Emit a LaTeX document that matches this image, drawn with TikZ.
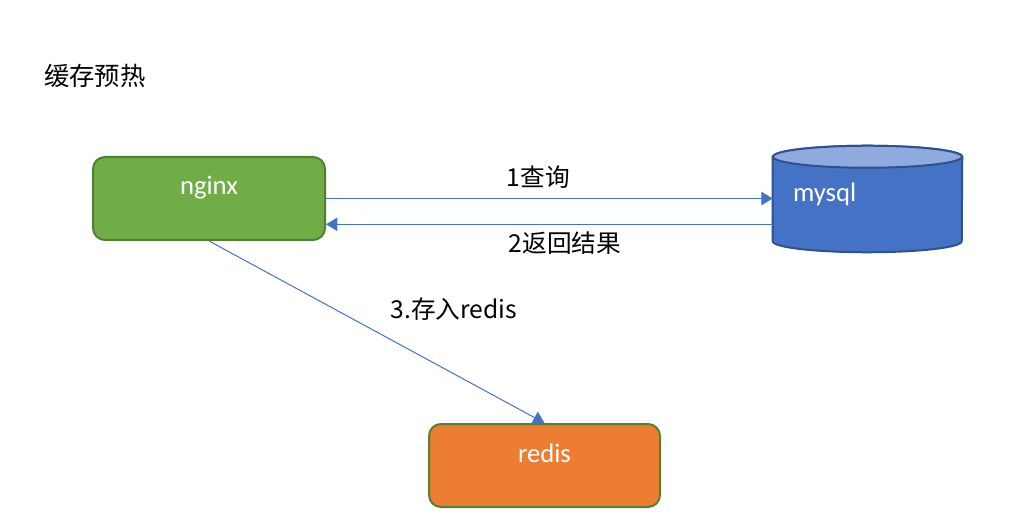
\documentclass[tikz,border=0pt]{standalone}
\usepackage{fontspec}
\setmainfont{Carlito}
\newfontfamily\cjk{Noto Sans CJK SC}
\usetikzlibrary{arrows.meta, positioning, calc}

\definecolor{ngxgreen}{HTML}{70AD47}
\definecolor{ngxedge}{HTML}{507E32}
\definecolor{rdsorange}{HTML}{ED7D31}
\definecolor{rdsedge}{HTML}{548235}
\definecolor{dbblue}{HTML}{4472C4}
\definecolor{dbedge}{HTML}{2F528F}
\definecolor{dbtop}{HTML}{8FAADC}
\definecolor{flowblue}{HTML}{4472C4}

\begin{document}
\begin{tikzpicture}[x=0.75pt, y=-0.75pt,
  box/.style={rounded corners=9pt, line width=1.5pt, minimum width=174pt,
    minimum height=62.25pt, inner sep=0pt, text=white,
    font=\fontsize{20}{24}\selectfont, text height=14pt, text depth=19.25pt},
  flow/.style={draw=flowblue, line width=0.75pt, -{Triangle[length=8.5pt, width=10pt]}},
  lbl/.style={inner sep=0pt, font=\cjk\fontsize{18.5}{22}\selectfont}]
  \useasboundingbox (0,0) rectangle (1036,524);
  % title
  \node[lbl, anchor=west, font=\cjk\fontsize{19}{23}\selectfont] (title) at (44,76) {缓存预热};
  % boxes
  \node[box, fill=ngxgreen, draw=ngxedge] (nginx) at (209,198.5) {nginx};
  \node[box, fill=rdsorange, draw=rdsedge, minimum width=173.25pt] (redis) at (544.5,465.5) {redis};
  % mysql cylinder
  \node[minimum width=141.75pt, minimum height=79.5pt, inner sep=0pt] (mysql) at (867.5,199) {};
  \filldraw[fill=dbblue, draw=dbedge, line width=1.5pt]
    ([yshift=-8.25pt]mysql.north west) -- ([yshift=8.25pt]mysql.south west)
    arc[start angle=180, end angle=360, x radius=70.875pt, y radius=8.25pt]
    -- ([yshift=-8.25pt]mysql.north east)
    arc[start angle=0, end angle=180, x radius=70.875pt, y radius=8.25pt] -- cycle;
  \filldraw[fill=dbtop, draw=dbedge, line width=1.5pt]
    ([yshift=-8.25pt]mysql.north) ellipse[x radius=70.875pt, y radius=8.25pt];
  \node[anchor=base west, inner sep=0pt, text=white, font=\fontsize{20}{24}\selectfont]
    (mysqltext) at ([xshift=15pt, yshift=-2pt]mysql.west) {mysql};
  % arrows
  \draw[flow] (nginx.east) -- node[lbl, pos=0.475, above=7.5pt] (ask) {1查询}
    (nginx.east -| mysql.west);
  \draw[flow] ([yshift=-19pt]mysql.west) -- node[lbl, pos=0.465, below=5.25pt] (back) {2返回结果}
    ([yshift=-19pt]mysql.west -| nginx.east);
  \draw[flow] (nginx.south) -- node[lbl, pos=0.5, anchor=south west, xshift=10pt, yshift=8pt] (store) {3.存入redis}
    (redis.north);
\end{tikzpicture}
\end{document}
